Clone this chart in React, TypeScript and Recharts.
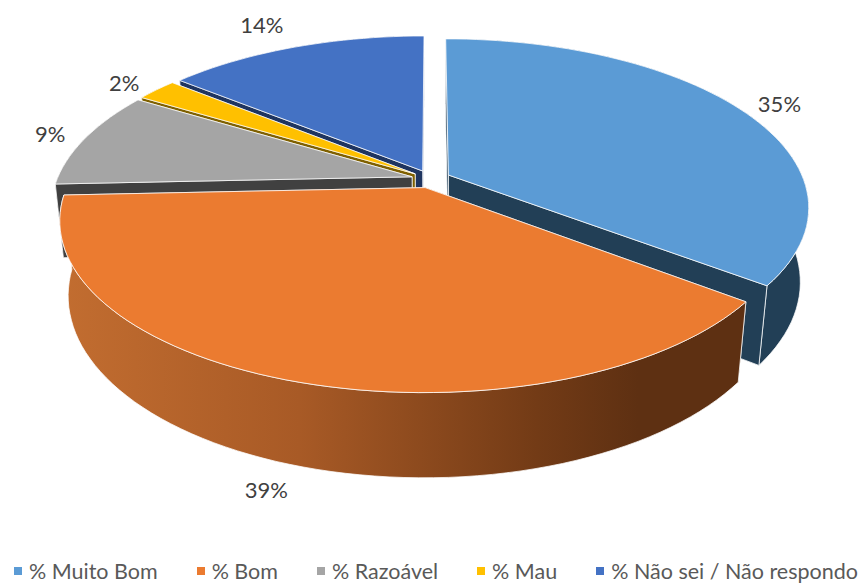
import { PieChart, Pie, Legend } from 'recharts';

const categories = ['% Muito Bom', '% Bom', '% Razoável', '% Mau', '% Não sei / Não respondo'];
const values = [35.4, 38.9, 9.4, 2.2, 14.1];
const topColors = ['#5b9bd5', '#eb7b30', '#a5a5a5', '#ffc000', '#4472c4'];
const sideColors = ['#223f56', 'url(#bomSide)', '#404040', '#7f6000', '#1f3560'];
const labelPull = [1.2, 1.13, 1.2, 1.2, 1.3];
const labelNudge = [[1, 3], [-18, 5], [10, 1], [1, 4], [-7, 2]];

// painted back to front, going round counter-clockwise from the end of the first slice
const paintOrder = [0, 4, 3, 2, 1];
const slices = paintOrder.map((i) => ({
  name: categories[i],
  value: values[i],
  top: topColors[i],
  side: sideColors[i],
  pull: labelPull[i],
  nudge: labelNudge[i],
}));

const TILT = 163 / 355;
const PERSPECTIVE = 0.187;
const CONVERGE = 0.022;
const DEPTH = 75;
const EXPLODE = 0.055;
const RAD = Math.PI / 180;

// disc coordinates (u right, v towards the viewer, z down) to the screen
function project(cx: number, cy: number, r: number, u: number, v: number, z: number) {
  const w = 1 - PERSPECTIVE * v + CONVERGE * z;
  return [cx + (r * u) / w, cy + (r * TILT * v + DEPTH * z) / w];
}

function toPath(points: number[][]) {
  return points.map((p, i) => `${i ? 'L' : 'M'}${p[0].toFixed(1)} ${p[1].toFixed(1)}`).join(' ') + ' Z';
}

function Slice3D(props: any) {
  const { cx, cy, outerRadius: r, startAngle, endAngle, payload } = props;
  const mid = ((startAngle + endAngle) / 2) * RAD;
  const du = EXPLODE * Math.cos(mid);
  const dv = -EXPLODE * Math.sin(mid);
  const at = (deg: number, z: number) =>
    project(cx, cy, r, du + Math.cos(deg * RAD), dv - Math.sin(deg * RAD), z);
  const apex = (z: number) => project(cx, cy, r, du, dv, z);

  const steps = Math.max(2, Math.ceil(Math.abs(endAngle - startAngle) / 2));
  const angles: number[] = [];
  for (let i = 0; i <= steps; i++) angles.push(startAngle + ((endAngle - startAngle) * i) / steps);

  const topArc = angles.map((a) => at(a, 0));
  const bottomArc = angles.map((a) => at(a, 1)).reverse();
  const edge = { stroke: '#ffffff', strokeWidth: 1, strokeOpacity: 0.75, strokeLinejoin: 'round' as const };

  const outerWall = <path d={toPath([...topArc, ...bottomArc])} fill={payload.side} {...edge} />;
  const isFront = dv > 0;

  return (
    <g>
      {!isFront && outerWall}
      <path d={toPath([apex(0), at(startAngle, 0), at(startAngle, 1), apex(1)])} fill={payload.side} {...edge} />
      <path d={toPath([apex(0), at(endAngle, 0), at(endAngle, 1), apex(1)])} fill={payload.side} {...edge} />
      {isFront && outerWall}
      <path d={toPath([apex(0), ...topArc])} fill={payload.top} {...edge} />
    </g>
  );
}

function renderLabel(props: any) {
  const { cx, cy, outerRadius: r, midAngle, payload, value } = props;
  const pull = payload?.pull ?? props.pull;
  const nudge = payload?.nudge ?? props.nudge;
  const u = Math.cos(midAngle * RAD) * pull;
  const v = -Math.sin(midAngle * RAD) * pull;
  const [x, y] = project(cx, cy, r, u, v, v > 0.5 ? 1 : 0);
  return (
    <text
      x={x + nudge[0]}
      y={y + nudge[1]}
      textAnchor="middle"
      dominantBaseline="central"
      fontFamily="Lato"
      fontSize={22}
      fill="#404040"
    >
      {Math.round(value)}%
    </text>
  );
}

function renderLegend() {
  return (
    <div style={{ display: 'flex', fontFamily: 'Lato', fontSize: 21.5, color: '#595959', paddingLeft: 14, whiteSpace: 'nowrap' }}>
      {categories.map((name, i) => (
        <div key={name} style={{ display: 'flex', alignItems: 'center', marginRight: i < categories.length - 1 ? 39 : 0 }}>
          <span style={{ width: 8, height: 8, background: topColors[i], marginRight: 7 }} />
          {name}
        </div>
      ))}
    </div>
  );
}

export default function App() {
  return (
    <div style={{ position: 'absolute', left: 0, top: 0, width: 865, height: 585, background: '#fff' }}>
      <PieChart width={865} height={585} margin={{ top: 0, right: 0, bottom: 0, left: 0 }}>
        <defs>
          <linearGradient id="bomSide" gradientUnits="userSpaceOnUse" x1={62} y1={0} x2={740} y2={0}>
            <stop offset="0%" stopColor="#c26d30" />
            <stop offset="35%" stopColor="#a85a26" />
            <stop offset="70%" stopColor="#733b16" />
            <stop offset="85%" stopColor="#5e3012" />
            <stop offset="100%" stopColor="#5e3012" />
          </linearGradient>
        </defs>
        <Pie
          data={slices}
          dataKey="value"
          nameKey="name"
          cx={431}
          cy={179}
          outerRadius={355}
          startAngle={-37.44}
          endAngle={322.56}
          paddingAngle={0}
          stroke="none"
          shape={Slice3D}
          label={renderLabel}
          labelLine={false}
          isAnimationActive={false}
        />
        <Legend content={renderLegend} wrapperStyle={{ left: 0, top: 558, width: 865 }} />
      </PieChart>
    </div>
  );
}
